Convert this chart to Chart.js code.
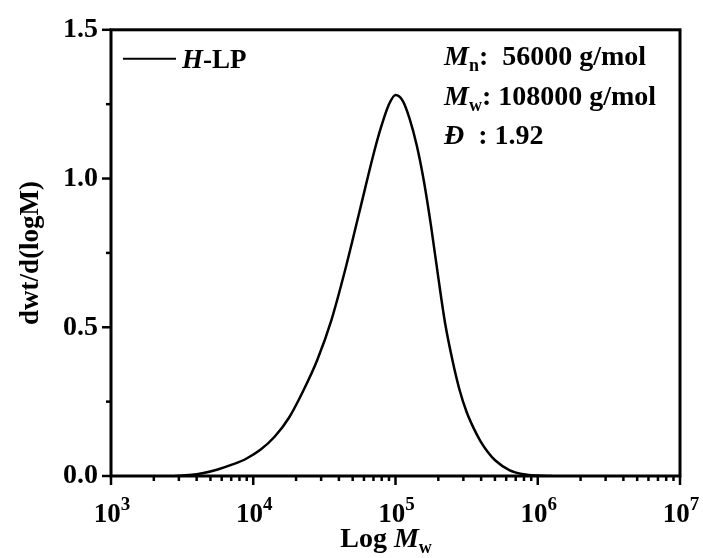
<!DOCTYPE html>
<html>
<head>
<meta charset="utf-8">
<script src="https://cdn.jsdelivr.net/npm/chart.js@4.4.1/dist/chart.umd.min.js"></script>
<style>
  html, body { margin: 0; padding: 0; background: #fff; }
  #wrap { width: 703px; height: 558px; }
</style>
</head>
<body>
<div id="wrap"><canvas id="miGrafico" width="703" height="558"></canvas></div>
<script>
// datos (log M, dwt/d(logM))
const logM = [3.45, 3.55, 3.65, 3.75, 3.85, 3.95, 4.05, 4.15, 4.25, 4.35, 4.45, 4.55, 4.65, 4.75, 4.85, 4.9, 4.95, 5.0,
  5.05, 5.1, 5.15, 5.2, 5.25, 5.3, 5.35, 5.4, 5.45, 5.5, 5.55, 5.6, 5.65, 5.7, 5.8, 5.9, 6.0, 6.1];
const dwt = [0, 0.003, 0.01, 0.022, 0.038, 0.058, 0.088, 0.132, 0.195, 0.285, 0.39, 0.525, 0.7, 0.895, 1.09, 1.175, 1.245, 1.281,
  1.262, 1.2, 1.11, 0.99, 0.84, 0.67, 0.51, 0.39, 0.29, 0.215, 0.16, 0.115, 0.08, 0.053, 0.02, 0.006, 0.0015, 0];

const xMajor = [1e3, 1e4, 1e5, 1e6, 1e7];
const xExpLabels = ['3', '4', '5', '6', '7'];
const yMajor = [0, 0.5, 1.0, 1.5];
const yMinor = [0.25, 0.75, 1.25];

const serie = 'H-LP';
const textoMn = '56000 g/mol';
const textoMw = '108000 g/mol';
const textoPDI = '1.92';

const FONT = '"Liberation Serif", "Times New Roman", serif';

const puntos = logM.map((l, i) => ({ x: Math.pow(10, l), y: dwt[i] }));

// dibuja texto con trozos (cursiva, subindice, superindice)
function dibujarTrozos(ctx, x, y, trozos) {
    let cx = x;
    for (const t of trozos) {
        const size = t.size || 28;
        ctx.font = (t.italic ? 'italic ' : '') + 'bold ' + size + 'px ' + FONT;
        ctx.fillText(t.t, cx, y + (t.dy || 0));
        cx += ctx.measureText(t.t).width;
    }
    return cx - x;
}

function anchoTrozos(ctx, trozos) {
    let w = 0;
    for (const t of trozos) {
        const size = t.size || 28;
        ctx.font = (t.italic ? 'italic ' : '') + 'bold ' + size + 'px ' + FONT;
        w += ctx.measureText(t.t).width;
    }
    return w;
}

const marco = {
    id: 'marco',
    afterDraw(chart) {
        const ctx = chart.ctx;
        const a = chart.chartArea;
        const xs = chart.scales.x;
        const ys = chart.scales.y;
        ctx.save();
        ctx.strokeStyle = '#000';
        ctx.fillStyle = '#000';

        // marco
        ctx.lineWidth = 3;
        ctx.strokeRect(a.left, a.top, a.right - a.left, a.bottom - a.top);

        // ticks eje x (mayores y menores)
        ctx.lineWidth = 2.5;
        for (let d = 3; d < 7; d++) {
            for (let k = 1; k < 10; k++) {
                const px = xs.getPixelForValue(k * Math.pow(10, d));
                const len = k === 1 ? 9 : 5;
                ctx.beginPath();
                ctx.moveTo(px, a.bottom);
                ctx.lineTo(px, a.bottom + len);
                ctx.stroke();
            }
        }
        const pxEnd = xs.getPixelForValue(1e7);
        ctx.beginPath();
        ctx.moveTo(pxEnd, a.bottom);
        ctx.lineTo(pxEnd, a.bottom + 9);
        ctx.stroke();

        // ticks eje y
        for (const v of yMajor) {
            const py = ys.getPixelForValue(v);
            ctx.beginPath();
            ctx.moveTo(a.left, py);
            ctx.lineTo(a.left - 9, py);
            ctx.stroke();
        }
        for (const v of yMinor) {
            const py = ys.getPixelForValue(v);
            ctx.beginPath();
            ctx.moveTo(a.left, py);
            ctx.lineTo(a.left - 5, py);
            ctx.stroke();
        }

        // etiquetas eje x: 10^n
        ctx.textAlign = 'left';
        ctx.textBaseline = 'alphabetic';
        xMajor.forEach((v, i) => {
            const px = xs.getPixelForValue(v);
            const trozos = [{ t: '10', size: 27 }, { t: xExpLabels[i], size: 19, dy: -12 }];
            const w = anchoTrozos(ctx, trozos);
            dibujarTrozos(ctx, px - w / 2 + 1, a.bottom + 46, trozos);
        });

        // titulo eje x
        const tx = [{ t: 'Log ', size: 28 }, { t: 'M', size: 28, italic: true }, { t: 'w', size: 18, dy: 6 }];
        const wx = anchoTrozos(ctx, tx);
        dibujarTrozos(ctx, 386 - wx / 2, 547, tx);

        // titulo eje y
        ctx.save();
        ctx.translate(38, (a.top + a.bottom) / 2);
        ctx.rotate(-Math.PI / 2);
        ctx.textAlign = 'center';
        ctx.font = 'bold 27px ' + FONT;
        ctx.fillText('dwt/d(logM)', 0, 0);
        ctx.restore();

        // leyenda
        ctx.lineWidth = 2;
        ctx.beginPath();
        ctx.moveTo(a.left + 12, a.top + 29);
        ctx.lineTo(a.left + 65, a.top + 29);
        ctx.stroke();
        ctx.textAlign = 'left';
        dibujarTrozos(ctx, a.left + 71, a.top + 38, [
            { t: 'H', size: 27, italic: true }, { t: serie.slice(1), size: 27 }
        ]);

        // texto Mn, Mw, PDI
        const x0 = 444;
        dibujarTrozos(ctx, x0, 65, [
            { t: 'M', italic: true }, { t: 'n', size: 18, dy: 6 }, { t: ':  ' + textoMn }
        ]);
        dibujarTrozos(ctx, x0, 105, [
            { t: 'M', italic: true }, { t: 'w', size: 18, dy: 6 }, { t: ': ' + textoMw }
        ]);
        dibujarTrozos(ctx, x0, 144, [
            { t: '\u0110', italic: true }, { t: '  : ' + textoPDI }
        ]);

        ctx.restore();
    }
};

new Chart(document.getElementById('miGrafico').getContext('2d'), {
    type: 'line',
    data: {
        datasets: [{
            label: serie,
            data: puntos,
            borderColor: '#000',
            borderWidth: 2.5,
            pointRadius: 0,
            fill: false,
            cubicInterpolationMode: 'monotone'
        }]
    },
    options: {
        responsive: false,
        animation: false,
        layout: { padding: { left: 0, right: 23, top: 24, bottom: 0 } },
        plugins: { legend: { display: false }, tooltip: { enabled: false } },
        scales: {
            x: {
                type: 'logarithmic',
                min: 1e3,
                max: 1e7,
                grid: { display: false, drawTicks: false },
                border: { display: false },
                ticks: { display: false },
                afterFit: (scale) => { scale.height = 82; }
            },
            y: {
                min: 0,
                max: 1.5,
                grid: { display: false, drawTicks: false },
                border: { display: false },
                ticks: {
                    stepSize: 0.5,
                    padding: 13,
                    color: '#000',
                    font: { family: FONT, size: 28, weight: 'bold' },
                    callback: (v) => Number(v).toFixed(1)
                },
                afterFit: (scale) => { scale.width = 111; }
            }
        }
    },
    plugins: [marco]
});
</script>
</body>
</html>
